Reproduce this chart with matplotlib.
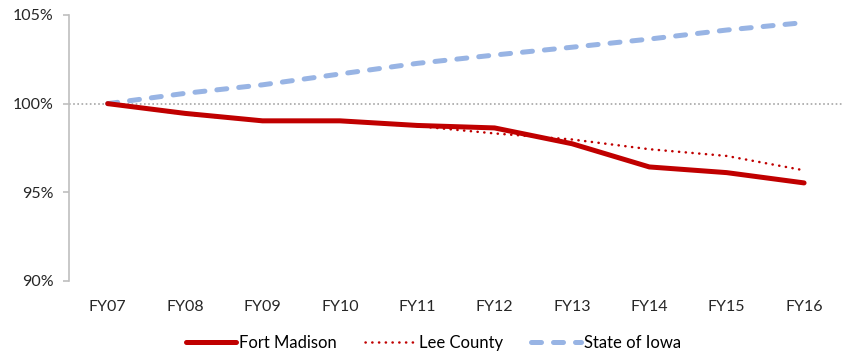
import matplotlib
matplotlib.use("Agg")
import matplotlib.pyplot as plt
from matplotlib.ticker import FuncFormatter

plt.rcParams["font.family"] = ["Lato", "DejaVu Sans"]

years = ["FY07", "FY08", "FY09", "FY10", "FY11", "FY12", "FY13", "FY14", "FY15", "FY16"]
fort_madison = [100.0, 99.45, 99.03, 99.03, 98.77, 98.63, 97.74, 96.43, 96.11, 95.53]
lee_county = [100.0, 99.4, 99.0, 99.0, 98.73, 98.32, 97.98, 97.43, 97.05, 96.24]
state_of_iowa = [100.0, 100.58, 101.06, 101.67, 102.27, 102.74, 103.18, 103.64, 104.15, 104.57]
y_ticks = [90, 95, 100, 105]

RED = "#C00000"
BLUE = "#98B4E4"
GREY = "#BFBFBF"

fig = plt.figure(figsize=(8.47, 3.56), dpi=100)
ax = fig.add_axes([0.0815, 0.2107, 0.9135, 0.7473])
x = range(len(years))

ax.axhline(100, color="#A6A6A6", lw=1.2, ls=(0, (1, 1.5)), zorder=1)
ax.plot(x, fort_madison, color=RED, lw=3.6, solid_capstyle="round", label="Fort Madison", zorder=3)
ax.plot(x, lee_county, color=RED, lw=1.8, ls=(0, (0.1, 2.6)), dash_capstyle="round", label="Lee County", zorder=4)
ax.plot(x, state_of_iowa, color=BLUE, lw=3.6, ls=(0, (2.0, 2.4)), dash_capstyle="round", label="State of Iowa", zorder=2)

ax.set_xlim(-0.5, len(years) - 0.5)
ax.set_ylim(90, 105)
ax.set_xticks(list(x))
ax.set_xticklabels(years)
ax.set_yticks(y_ticks)
ax.yaxis.set_major_formatter(FuncFormatter(lambda v, _: f"{v:.0f}%"))

for s in ("top", "right", "bottom"):
    ax.spines[s].set_visible(False)
ax.spines["left"].set_color(GREY)
ax.spines["left"].set_linewidth(1.2)
ax.tick_params(axis="y", colors=GREY, labelcolor="#262626", length=4.3, width=1.2, labelsize=11.5, pad=7)
ax.tick_params(axis="x", length=0, labelcolor="#262626", labelsize=11.5, pad=14)

leg = fig.legend(loc="center", bbox_to_anchor=(0.512, 0.036), ncol=3, frameon=False,
                 fontsize=12, handlelength=3.0, handletextpad=0.2, columnspacing=1.7)

fig.savefig("out.png", dpi=100)
